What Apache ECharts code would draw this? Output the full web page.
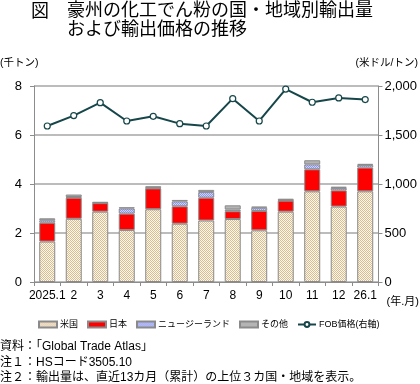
<!DOCTYPE html>
<html><head><meta charset="utf-8">
<script src="https://cdn.jsdelivr.net/npm/echarts@6/dist/echarts.min.js"></script>
<style>html,body{margin:0;padding:0;background:#fff}#c{width:420px;height:384px}</style>
</head><body><div id="c"></div>
<script>
const categories = ['2025.1','2','3','4','5','6','7','8','9','10','11','12','26.1'];
const usa = [1.65,2.58,2.87,2.12,2.97,2.38,2.51,2.57,2.11,2.87,3.70,3.08,3.70];
const japan = [0.77,0.86,0.35,0.67,0.85,0.71,0.93,0.32,0.79,0.45,0.90,0.66,0.97];
const nz = [0.10,0.03,0.01,0.21,0.02,0.20,0.23,0.07,0.13,0.02,0.20,0.10,0.11];
const other = [0.08,0.10,0.04,0.05,0.07,0.06,0.09,0.17,0.05,0.06,0.17,0.05,0.04];
const fob = [1592,1698,1830,1643,1691,1616,1592,1871,1643,1969,1834,1878,1861];
const leftTicks = [0,2,4,6,8];
const rightTicks = [0,500,1000,1500,2000];

function pat(a, b) {
  const c = document.createElement('canvas');
  c.width = 2; c.height = 2;
  const g = c.getContext('2d');
  g.fillStyle = b; g.fillRect(0,0,2,2);
  g.fillStyle = a; g.fillRect(0,0,1,1); g.fillRect(1,1,1,1);
  return {image: c, repeat: 'repeat'};
}
const FF = '"Liberation Sans", "Noto Sans CJK JP", sans-serif';
const chart = echarts.init(document.getElementById('c'), null, {renderer:'canvas'});
const border = {borderColor:'#8a8a8a', borderWidth:1};
const barW = 16;
chart.setOption({
  animation:false,
  textStyle:{fontFamily:FF},
  grid:{left:34, right:40, top:86, bottom:102},
  legend:{
    left:38, top:320, width:384, padding:0, itemWidth:18, itemHeight:6, itemGap:9,
    textStyle:{fontSize:9, color:'#000', fontFamily:FF, padding:[0,0,0,-2]},
    data:[
      {name:'米国', icon:'rect'},{name:'日本', icon:'rect'},{name:'ニュージーランド', icon:'rect'},{name:'その他', icon:'rect'},
      {name:'FOB価格(右軸)'}
    ]
  },
  xAxis:{
    type:'category', data:categories,
    axisLine:{lineStyle:{color:'#8c8c8c'}},
    axisTick:{show:true, length:4, lineStyle:{color:'#8c8c8c'}},
    axisLabel:{fontSize:12, color:'#000', margin:8, interval:0, fontFamily:FF}
  },
  yAxis:[
    {type:'value', min:0, max:8, interval:2,
     axisLine:{show:true, lineStyle:{color:'#8c8c8c'}},
     axisTick:{show:true, length:4, lineStyle:{color:'#8c8c8c'}},
     splitLine:{lineStyle:{color:'#a6a6a6', width:1.5}},
     axisLabel:{fontSize:13, color:'#000', margin:12, fontFamily:FF,
       formatter:v=>leftTicks.includes(v)?String(v):''}},
    {type:'value', min:0, max:2000, interval:500,
     axisLine:{show:true, lineStyle:{color:'#8c8c8c'}},
     axisTick:{show:true, length:4, lineStyle:{color:'#8c8c8c'}},
     splitLine:{show:false},
     axisLabel:{fontSize:13, color:'#000', margin:6, fontFamily:FF,
       formatter:v=>rightTicks.includes(v)?v.toLocaleString('en-US'):''}}
  ],
  series:[
    {name:'米国', type:'bar', stack:'t', barWidth:barW, data:usa,
     itemStyle:Object.assign({color:pat('#d8bd92','#fdf7ec')}, border)},
    {name:'日本', type:'bar', stack:'t', barWidth:barW, data:japan,
     itemStyle:Object.assign({color:'#ff0000'}, border)},
    {name:'ニュージーランド', type:'bar', stack:'t', barWidth:barW, data:nz,
     itemStyle:Object.assign({color:pat('#8d98ee','#cdd3ff')}, border)},
    {name:'その他', type:'bar', stack:'t', barWidth:barW, data:other,
     itemStyle:Object.assign({color:'#b4b4b4'}, border)},
    {name:'FOB価格(右軸)', type:'line', yAxisIndex:1, data:fob, z:5,
     symbol:'circle', symbolSize:6,
     lineStyle:{color:'#164649', width:2},
     itemStyle:{color:'#ffffff', borderColor:'#164649', borderWidth:1.2}}
  ],
  graphic:[
    {type:'text', left:31, top:3, style:{text:'図', fontSize:18, fontFamily:FF, fill:'#000'}},
    {type:'text', left:67, top:2, style:{text:'豪州の化工でん粉の国・地域別輸出量\nおよび輸出価格の推移', fontSize:18, lineHeight:19, fontFamily:FF, fill:'#000'}},
    {type:'text', left:0, top:58, style:{text:'(千トン)', fontSize:10.5, fontFamily:FF, fill:'#000'}},
    {type:'text', right:2, top:58, style:{text:'(米ドル/トン)', fontSize:10.5, fontFamily:FF, fill:'#000'}},
    {type:'text', right:1, top:296, style:{text:'(年.月)', fontSize:11, fontFamily:FF, fill:'#000'}},
    {type:'text', left:0, top:339, style:{text:'資料：「Global Trade Atlas」\n注１：HSコード3505.10\n注２：輸出量は、直近13カ月（累計）の上位３カ国・地域を表示。', fontSize:12, lineHeight:15.5, fontFamily:FF, fill:'#000'}}
  ]
});
</script></body></html>
